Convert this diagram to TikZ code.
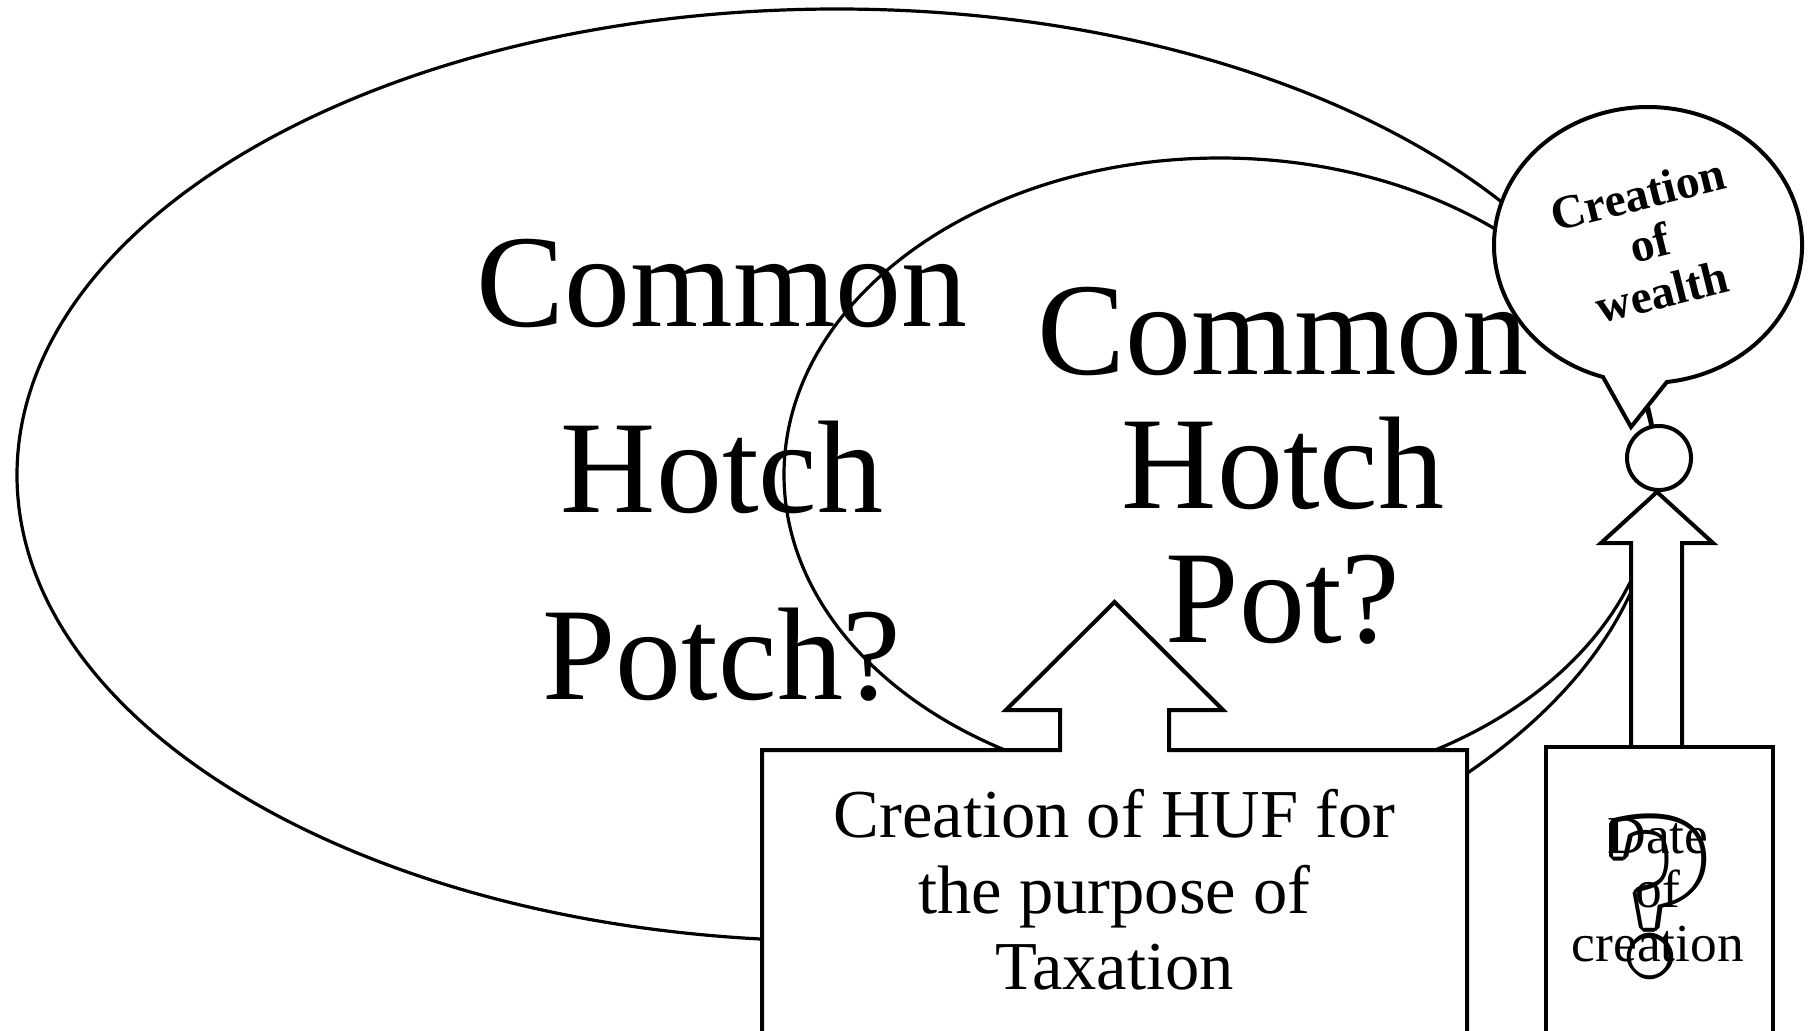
\documentclass[tikz,border=0pt]{standalone}
\usepackage{fontspec}
\setmainfont{Liberation Serif}
\usetikzlibrary{calc}
\begin{document}
\begin{tikzpicture}[x=0.01cm,y=-0.01cm,
  thinline/.style={line width=0.032cm},
  thickline/.style={line width=0.04cm, line join=miter},
  bigtext/.style={align=center, inner sep=0, font=\fontsize{37.5}{53.1}\selectfont},
  innertext/.style={align=center, inner sep=0, font=\fontsize{37.5}{38.1}\selectfont},
  huftext/.style={align=center, inner sep=0, font=\fontsize{19.5}{21.6}\selectfont},
  datetext/.style={align=center, inner sep=0, font=\fontsize{15.2}{15.4}\selectfont},
  bubbletext/.style={align=center, inner sep=0, rotate=14, font=\bfseries\fontsize{13.5}{14.3}\selectfont},
  qmark/.style={anchor=base, inner sep=0, font=\bfseries\fontsize{66}{66}\selectfont}]
\useasboundingbox (0,0) rectangle (1809,1030);
\fill[white] (0,0) rectangle (1809,1030);

% texts of the two ellipses
\node[bigtext] (potch) at (722,470) {Common\\Hotch\\Potch?};
\node[innertext] (pot) at (1283,466) {Common\\Hotch\\Pot?};

% the two ellipses
\draw[thinline] (837,475) ellipse [x radius=820, y radius=466];
\draw[thinline] (1220,474.6) ellipse [x radius=436, y radius=316.6];

% speech bubble
\coordinate (tip) at (1631,427);
\draw[thickline, fill=white] (tip) -- (1603,377)
  arc[start angle=107, end angle=443, x radius=154, y radius=138] -- cycle;
\node[bubbletext] (wealth) at (1650,243) {Creation\\of\\wealth};

% small arrow and circle
\draw[thickline, fill=white] (1631,760) -- (1631,543) -- (1601,543) -- (1657,492)
  -- (1713,543) -- (1682,543) -- (1682,760);
\node[draw, thickline, fill=white, circle, minimum size=0.64cm, inner sep=0] (knob) at (1659,458) {};

% right box
\draw[thickline, fill=white] (1546,1045) -- (1546,747) -- (1773,747) -- (1773,1045);
\coordinate (qbase) at (1658,972);
\foreach \k in {1,...,16}{
  \node[qmark, text=black] (qshade\k) at ($(qbase)+({22.5*\k}:4.2)$) {?};
}
\node[qmark, text=white] (qmk) at (qbase) {?};
\node[datetext] (date) at (1658,890) {Date\\of\\creation};

% HUF box with big arrow
\draw[thickline, fill=white] (762,1045) -- (762,750) -- (1060,750) -- (1060,710)
  -- (1006,710) -- (1114.5,602) -- (1223,710) -- (1169,710) -- (1169,750)
  -- (1467,750) -- (1467,1045);
\node[huftext] (huf) at (1114.5,890) {Creation of HUF for\\the purpose of\\Taxation};
\end{tikzpicture}
\end{document}
